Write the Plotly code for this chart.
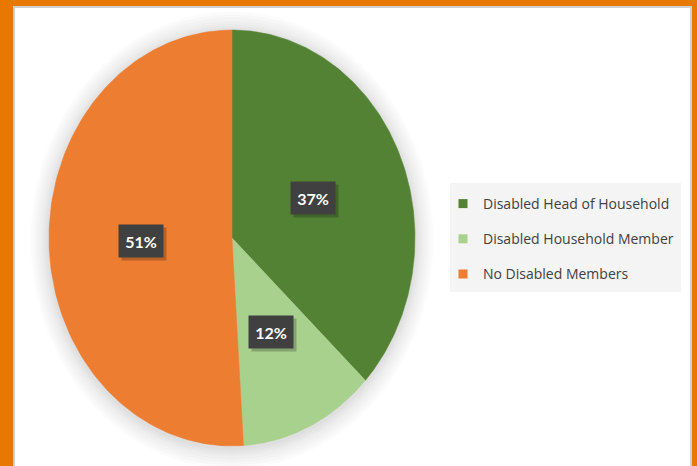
import numpy as np
import plotly.graph_objects as go

categories = ["Disabled Head of Household", "Disabled Household Member", "No Disabled Members"]
values = [37, 12, 51]
colors = ["#548235", "#A9D18E", "#ED7D31"]

W, H = 697, 466
CX, CY, RX, RY = 232, 238, 183, 208  # ellipse centre / radii in pixels

def wedge(a0, a1, scale=1.0, n=160):
    t = np.linspace(a0, a1, n)
    xs = np.concatenate([[0], scale * np.sin(t), [0]])
    ys = np.concatenate([[0], scale * np.cos(t), [0]])
    return xs, ys

fig = go.Figure()

# soft shadow halo
for s in [1.10, 1.085, 1.07, 1.055, 1.04, 1.03, 1.02, 1.01]:
    t = np.linspace(0, 2 * np.pi, 200)
    fig.add_trace(go.Scatter(x=s * np.sin(t), y=s * np.cos(t) - 0.01, fill="toself", mode="lines",
                             line=dict(width=0), fillcolor="rgba(0,0,0,0.017)",
                             hoverinfo="skip", showlegend=False))

total = sum(values)
start = 0.0
mids = []
for cat, v, c in zip(categories, values, colors):
    a0 = start
    a1 = start + 2 * np.pi * v / total
    xs, ys = wedge(a0, a1)
    fig.add_trace(go.Scatter(x=xs, y=ys, fill="toself", mode="lines",
                             line=dict(width=0.5, color=c), fillcolor=c,
                             name=cat, hoverinfo="name", showlegend=False))
    mids.append((a0 + a1) / 2)
    start = a1

for i, (cat, c) in enumerate(zip(categories, colors)):
    fig.add_trace(go.Scatter(x=[None], y=[None], mode="markers",
                             marker=dict(symbol="square", size=9, color=c),
                             name=cat, legendgroup=f"g{i}", showlegend=True))

label_r = [0.48, 0.5, 0.5]
for v, m, r in zip(values, mids, label_r):
    pct = round(100 * v / total)
    x, y = r * np.sin(m), r * np.cos(m)
    fig.add_annotation(x=x, y=y, xshift=3, yshift=-3, text=" ", showarrow=False,
                       width=44, height=32, font=dict(size=12),
                       bgcolor="rgba(0,0,0,0.22)", borderpad=0)
    fig.add_annotation(x=x, y=y, text=f"<b>{pct}%</b>", showarrow=False,
                       width=44, height=32,
                       font=dict(family="Lato", size=16, color="white"),
                       bgcolor="#404040", borderpad=0)

# orange frame + white inner panel with thin grey edge
fig.add_shape(type="rect", xref="paper", yref="paper", x0=0, x1=1, y0=0, y1=1,
              fillcolor="#E87800", line=dict(width=0), layer="below")
fig.add_shape(type="rect", xref="paper", yref="paper",
              x0=13 / W, x1=692 / W, y0=-0.05, y1=1 - 6 / H,
              fillcolor="#D0D0D0", line=dict(width=0), layer="below")
fig.add_shape(type="rect", xref="paper", yref="paper",
              x0=15 / W, x1=690 / W, y0=-0.05, y1=1 - 8 / H,
              fillcolor="white", line=dict(width=0), layer="below")
# legend panel
fig.add_shape(type="rect", xref="paper", yref="paper",
              x0=450 / W, x1=681 / W, y0=1 - 292 / H, y1=1 - 183 / H,
              fillcolor="#F4F4F4", line=dict(width=0), layer="below")

fig.update_layout(
    width=W, height=H,
    margin=dict(l=0, r=0, t=0, b=0),
    paper_bgcolor="white", plot_bgcolor="rgba(0,0,0,0)",
    xaxis=dict(range=[-CX / RX, (W - CX) / RX], visible=False, fixedrange=True),
    yaxis=dict(range=[(CY - H) / RY, CY / RY], visible=False, fixedrange=True),
    legend=dict(x=443 / W, y=1 - 188 / H, xanchor="left", yanchor="top",
                bgcolor="rgba(0,0,0,0)", font=dict(family="Open Sans", size=14, color="#404040"),
                tracegroupgap=14, itemwidth=30, borderwidth=0),
    showlegend=True,
)

fig.write_html("out.html", config={"displayModeBar": False},
               post_script="document.body.style.margin='0';document.body.style.overflow='hidden';")
